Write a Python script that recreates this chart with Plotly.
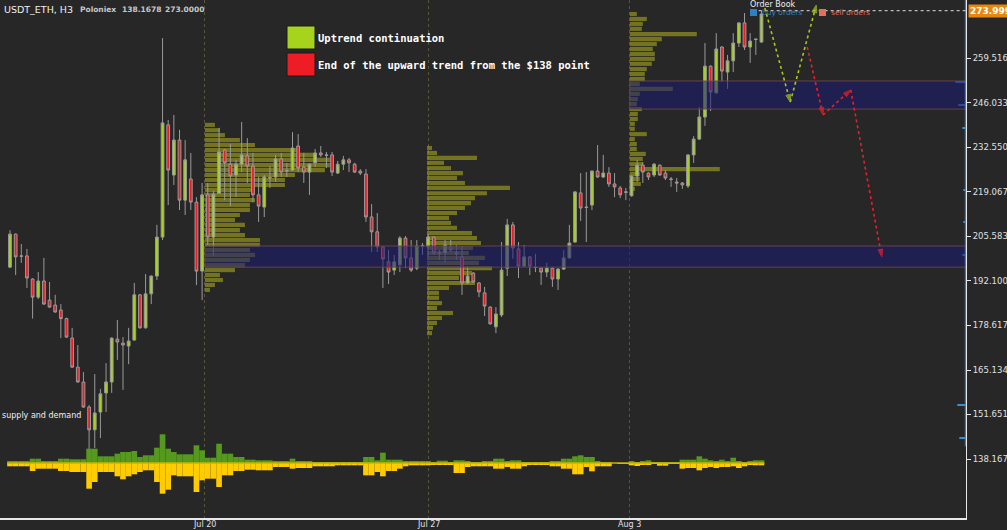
import plotly.graph_objects as go

# ---------------- data ----------------
opens = [196.3, 206.3, 199.7, 199.7, 192.7, 187.2, 192.1, 186.3, 184.8, 183.3,
         180.7, 174.8, 166.0, 161.5, 153.9, 147.0, 152.4, 158.2, 161.5, 174.5,
         173.3, 172.4, 174.2, 187.9, 177.9, 188.2, 193.6, 205.4, 239.4, 224.2,
         234.8, 216.6, 223.0, 216.0, 195.1, 218.2, 205.4, 218.7, 231.8, 227.5,
         224.2, 227.5, 230.0, 226.9, 218.2, 214.5, 223.3, 223.6, 229.1, 225.4,
         225.7, 233.0, 226.6, 225.1, 227.9, 230.9, 230.3, 230.3, 224.8, 227.5,
         228.8, 227.5, 225.4, 224.5, 211.5, 207.0, 202.4, 197.9, 195.4, 197.0,
         205.1, 199.1, 196.0, 202.7, 202.4, 205.4, 200.6, 200.6, 202.4, 200.6,
         199.4, 191.5, 194.5, 191.5, 188.5, 184.2, 178.2, 181.8, 196.0, 209.1,
         201.8, 196.6, 199.4, 196.3, 196.0, 194.8, 196.0, 192.7, 195.7, 199.1,
         203.9, 218.8, 214.5, 215.1, 225.4, 223.6, 224.8, 221.5, 220.3, 219.1,
         217.9, 223.9, 227.2, 224.8, 224.2, 227.2, 224.8, 223.0, 222.1, 221.8,
         220.9, 230.3, 235.1, 241.8, 257.2, 249.1, 263.0, 255.4, 258.8, 264.2,
         270.3, 263.0, 265.4, 264.5]
highs = [207.5, 206.5, 203.3, 201.8, 192.9, 194.8, 199.1, 191.8, 187.9, 185.1,
         181.0, 177.9, 172.7, 164.5, 154.5, 163.9, 159.4, 167.2, 175.0, 180.3,
         175.1, 177.9, 191.5, 188.2, 194.2, 193.8, 209.1, 265.7, 240.9, 242.4,
         237.9, 234.8, 230.9, 217.5, 221.8, 221.8, 219.4, 238.5, 232.0, 233.6,
         228.8, 240.3, 235.4, 230.9, 223.6, 224.2, 226.9, 230.3, 230.9, 227.9,
         237.2, 236.6, 230.9, 227.7, 232.1, 233.0, 231.2, 231.2, 228.5, 230.0,
         229.4, 227.9, 226.0, 226.0, 215.4, 212.7, 202.6, 201.5, 200.0, 205.7,
         205.7, 204.5, 204.5, 203.6, 206.3, 205.6, 201.5, 204.5, 204.5, 203.0,
         202.7, 196.6, 194.8, 191.8, 190.3, 184.4, 184.2, 203.9, 210.9, 210.0,
         203.9, 203.0, 199.6, 200.3, 196.2, 197.6, 196.2, 196.0, 201.5, 209.1,
         219.3, 224.8, 225.1, 225.6, 233.3, 230.3, 226.6, 224.8, 220.9, 220.3,
         224.1, 228.8, 228.1, 225.0, 227.8, 227.4, 225.7, 223.6, 223.3, 222.1,
         230.5, 236.0, 244.8, 264.2, 257.4, 267.2, 263.2, 260.6, 267.2, 270.5,
         273.3, 267.2, 265.6, 274.0]
lows = [196.0, 193.9, 197.6, 190.0, 180.7, 186.6, 184.9, 184.0, 182.5, 174.8,
        174.9, 165.8, 161.3, 153.7, 137.2, 141.5, 144.5, 152.4, 158.2, 168.2,
        159.1, 166.9, 174.0, 177.7, 177.7, 185.1, 192.4, 204.5, 215.1, 221.2,
        213.6, 212.1, 213.6, 190.9, 186.3, 203.0, 199.7, 218.5, 216.6, 214.8,
        217.5, 225.1, 221.8, 216.0, 210.0, 211.5, 220.3, 222.1, 223.6, 223.6,
        225.5, 225.1, 221.8, 218.2, 226.6, 229.7, 226.3, 223.9, 224.5, 225.7,
        225.1, 224.8, 224.2, 210.0, 200.9, 200.9, 190.0, 191.2, 193.9, 194.8,
        196.0, 194.8, 195.4, 200.0, 199.4, 200.0, 198.5, 197.8, 200.9, 198.5,
        187.9, 191.3, 191.6, 187.2, 181.5, 178.9, 176.3, 181.2, 193.6, 198.8,
        193.0, 196.3, 193.9, 194.8, 190.9, 193.3, 190.3, 189.4, 195.5, 198.9,
        203.7, 210.3, 203.9, 213.6, 223.4, 223.3, 220.6, 217.5, 217.2, 216.6,
        217.7, 222.1, 221.8, 222.7, 223.6, 224.0, 222.7, 220.6, 219.1, 220.0,
        220.3, 227.9, 234.8, 239.1, 243.6, 248.9, 252.4, 250.3, 255.4, 263.0,
        262.1, 258.2, 260.6, 264.2]
closes = [206.3, 199.4, 199.6, 193.0, 187.2, 192.1, 185.1, 184.2, 182.7, 180.7,
          175.1, 166.0, 161.5, 153.9, 147.0, 152.1, 157.9, 161.5, 174.8, 173.6,
          172.7, 173.9, 187.9, 177.9, 188.2, 193.6, 205.4, 240.0, 225.7, 234.8,
          216.6, 228.8, 216.0, 195.1, 218.2, 205.4, 218.4, 231.2, 227.9, 223.9,
          227.5, 230.3, 226.9, 218.2, 214.8, 223.6, 223.4, 229.1, 225.1, 225.5,
          232.4, 226.3, 225.1, 227.5, 230.9, 230.3, 230.2, 225.1, 227.5, 228.8,
          227.9, 225.1, 224.8, 211.5, 207.0, 202.4, 198.8, 194.8, 197.9, 205.1,
          199.1, 195.4, 202.7, 202.8, 205.4, 200.6, 200.5, 203.0, 201.5, 200.5,
          191.5, 193.6, 191.8, 188.8, 184.5, 179.1, 182.1, 195.4, 209.1, 202.1,
          196.6, 199.4, 196.6, 196.2, 194.8, 196.0, 192.7, 195.7, 199.1, 203.6,
          219.1, 214.2, 214.4, 225.4, 223.6, 224.8, 221.5, 220.6, 218.2, 219.0,
          223.9, 227.2, 225.1, 223.6, 227.5, 224.2, 223.3, 222.9, 221.8, 221.2,
          230.3, 235.1, 241.8, 257.2, 249.4, 262.4, 255.7, 258.8, 264.2, 270.3,
          263.0, 264.8, 265.3, 273.0]

# supply (green, up) and demand (yellow, down) volumes per candle
buy_vol = [1.7, 1.7, 1.7, 1.7, 4.3, 4.3, 1.7, 1.7, 1.7, 4.3,
           4.3, 3.7, 3.7, 3.7, 14.3, 14.3, 6.7, 6.7, 6.7, 9.3,
           11.0, 11.0, 12.0, 6.0, 7.7, 7.7, 15.3, 28.7, 14.3, 11.0,
           8.7, 8.7, 8.7, 17.7, 12.7, 5.3, 5.3, 19.3, 9.3, 9.3,
           6.0, 6.0, 3.3, 3.3, 2.7, 2.7, 2.7, 2.0, 2.0, 2.0,
           4.3, 1.7, 1.7, 1.7, 1.0, 1.0, 1.0, 1.0, 0.3, 0.3,
           0.3, 0.3, 0.3, 6.0, 6.0, 2.7, 10.3, 3.3, 3.3, 3.3,
           1.7, 1.7, 1.7, 1.7, 2.0, 1.0, 2.3, 2.3, 1.0, 2.7,
           2.7, 1.7, 1.0, 1.0, 2.0, 2.0, 4.3, 4.3, 1.7, 2.7,
           2.7, 1.0, 0.7, 0.7, 0.7, 0.7, 1.7, 1.7, 4.3, 4.3,
           6.7, 7.7, 6.0, 6.0, 1.7, 1.0, 1.0, 0.0, 0.0, 0.0,
           2.0, 1.0, 1.7, 2.7, 0.7, 0.3, 0.3, 0.7, 0.7, 3.3,
           3.3, 3.3, 6.7, 4.3, 2.7, 1.7, 3.3, 1.7, 5.3, 1.7,
           1.0, 1.7, 2.7, 2.7]
sell_vol = [3.3, 3.3, 3.3, 3.3, 8.0, 5.7, 5.7, 5.7, 5.7, 8.0,
            8.0, 9.0, 9.0, 9.0, 25.7, 19.0, 9.0, 9.0, 9.0, 13.3,
            16.3, 13.3, 11.3, 9.0, 7.3, 7.3, 19.0, 30.7, 26.7, 12.3,
            13.3, 13.3, 13.3, 29.0, 17.3, 15.7, 15.7, 24.0, 12.3, 12.3,
            8.0, 8.0, 6.7, 6.7, 7.3, 7.3, 7.3, 4.0, 4.0, 4.0,
            5.7, 5.0, 5.0, 5.0, 3.3, 3.3, 3.3, 3.3, 2.3, 2.3,
            2.3, 2.3, 2.3, 12.3, 12.3, 9.0, 13.3, 8.0, 8.0, 5.7,
            3.3, 2.3, 2.3, 2.3, 2.3, 1.7, 1.7, 1.7, 1.7, 10.0,
            10.0, 4.0, 3.3, 3.3, 3.3, 3.3, 5.7, 5.7, 4.0, 5.7,
            5.7, 3.3, 1.3, 1.3, 1.3, 1.7, 3.3, 3.3, 5.7, 5.7,
            11.3, 11.3, 4.0, 8.3, 3.3, 3.3, 3.3, 0.0, 0.7, 0.7,
            2.3, 3.0, 1.3, 1.3, 0.7, 2.7, 2.7, 0.7, 0.7, 5.7,
            5.0, 5.0, 7.3, 5.0, 4.0, 5.0, 4.0, 4.0, 3.3, 5.0,
            3.3, 1.7, 2.3, 2.3]

date_ticks = [34.5, 74.0, 109.7]
date_labels = ["Jul 20", "Jul 27", "Aug 3"]
price_ticks = [138.1678, 151.6510, 165.1342, 178.6175, 192.1007,
               205.5839, 219.0671, 232.5503, 246.0336, 259.5168]
price_labels = ["138.1678", "151.6510", "165.1342", "178.6175", "192.1007",
                "205.5839", "219.0671", "232.5503", "246.0336", "259.5168"]
last_price = 273.999

# order book (buy orders) levels and sizes
ob_prices = [252.4, 245.4, 238.4, 219.7, 210.0, 200.0, 154.5, 144.5]
ob_sizes = [10, 7, 3, 2, 2, 3, 8, 6]
ob_span = [142.0, 277.2]

# volume profiles: start bar, price levels, lengths
p1_start = 34.5
p1_levels = [239.4, 237.8, 236.3, 234.8, 233.3, 231.8, 230.3, 228.8, 227.2, 225.7,
             224.2, 222.7, 221.2, 219.7, 218.2, 216.6, 215.1, 213.6, 212.1, 210.6,
             209.1, 207.5, 206.0, 204.5, 203.0, 201.5, 200.0, 198.5, 196.9, 195.4,
             193.9, 192.4, 190.9, 189.4]
p1_len = [10, 15, 20, 35, 50, 95, 110, 125, 125, 120,
          90, 80, 80, 50, 45, 50, 45, 45, 35, 30,
          40, 35, 40, 55, 55, 45, 50, 45, 40, 30,
          15, 18, 10, 5]
p2_start = 73.8
p2_levels = [232.4, 230.9, 229.4, 227.9, 226.3, 224.8, 223.3, 221.8, 220.3, 218.7,
             217.2, 215.7, 214.2, 212.7, 211.2, 209.7, 208.2, 206.6, 205.1, 203.6,
             202.1, 200.6, 199.1, 197.6, 196.0, 194.5, 193.0, 191.5, 190.0, 188.5,
             187.0, 185.4, 183.9, 182.4, 180.9, 179.4, 177.9, 176.3]
p2_len = [5, 10, 50, 17, 24, 36, 30, 38, 83, 60,
          48, 44, 38, 30, 22, 24, 30, 45, 50, 54,
          46, 42, 58, 52, 65, 45, 32, 48, 22, 12,
          12, 15, 10, 26, 15, 10, 6, 5]
p3_start = 109.7
p3_levels = [273.0, 271.5, 270.0, 268.5, 266.9, 265.4, 263.9, 262.4, 260.9, 259.4,
             257.9, 256.3, 254.8, 253.3, 251.8, 250.3, 248.8, 247.2, 245.7, 244.2,
             242.7, 241.2, 239.7, 238.2, 236.6, 235.1, 233.6, 232.1, 230.6, 229.1,
             227.5, 226.0, 224.5, 223.0, 221.5, 220.0]
p3_len = [7, 17, 13, 12, 67, 32, 27, 23, 25, 25,
          22, 17, 15, 15, 10, 43, 10, 8, 7, 12,
          8, 8, 5, 5, 17, 5, 7, 7, 16, 13,
          13, 90, 10, 10, 11, 5]

# supply / demand zones (price bottom, top, starting bar)
zone_low = [196.3, 202.7]
zone_high = [244.2, 252.7]
zone_low_start = 34.5
zone_high_start = 109.7

# projected paths (bar, price)
up_path_x = [133.6, 138.1, 142.7]
up_path_y = [274.8, 246.3, 275.7]
down_path_x = [141.1, 143.9, 148.8, 154.3]
down_path_y = [263.0, 242.4, 250.0, 199.4]

# ---------------- layout helpers ----------------
W, H = 1007, 530
ML, MR, MT, MB = 0, 41, 0, 12
PW, PH = W - ML - MR, H - MT - MB
X_RANGE = [-1.77, 169.2]
Y_RANGE = [120.29, 277.24]
BAR_PX = 5.65


def px(x):
    return x / PW


def py(y):
    return 1 - y / PH


BG = "#272727"
n = len(opens)
xs = list(range(n))

fig = go.Figure()

# volume profiles
prof_color = "rgba(170,170,30,0.58)"
for start, lv, ln in [(p1_start, p1_levels, p1_len), (p2_start, p2_levels, p2_len),
                      (p3_start, p3_levels, p3_len)]:
    fig.add_trace(go.Bar(orientation="h", y=lv, x=[v / BAR_PX for v in ln], base=start,
                         width=1.25, marker=dict(color=prof_color, line=dict(width=0)),
                         showlegend=False, hoverinfo="skip"))

# supply & demand histogram
fig.add_trace(go.Bar(x=xs, y=buy_vol, width=1.0, yaxis="y2",
                     marker=dict(color="#559a1e", line=dict(width=0)),
                     showlegend=False, hoverinfo="skip"))
fig.add_trace(go.Bar(x=xs, y=[-v for v in sell_vol], width=1.0, yaxis="y2",
                     marker=dict(color="#ffcc00", line=dict(width=0)),
                     showlegend=False, hoverinfo="skip"))
fig.add_trace(go.Scatter(x=[-0.5, n - 0.5], y=[0, 0], yaxis="y2", mode="lines",
                         line=dict(color="#c8b400", width=1.5),
                         showlegend=False, hoverinfo="skip"))

# candles
fig.add_trace(go.Candlestick(
    x=xs, open=opens, high=highs, low=lows, close=closes,
    increasing=dict(line=dict(color="#9a9a9a", width=1), fillcolor="#a6d41c"),
    decreasing=dict(line=dict(color="#9a9a9a", width=1), fillcolor="#f01c24"),
    whiskerwidth=0, showlegend=False, hoverinfo="skip"))

# zones (drawn over the candles, under the projections)
for x0, lo, hi in [(zone_low_start, zone_low[0], zone_low[1]),
                   (zone_high_start, zone_high[0], zone_high[1])]:
    fig.add_trace(go.Scatter(x=[x0, X_RANGE[1], X_RANGE[1], x0, x0], y=[lo, lo, hi, hi, lo],
                             mode="lines", fill="toself", fillcolor="rgba(25,25,115,0.55)",
                             line=dict(color="rgba(110,70,75,0.9)", width=1),
                             showlegend=False, hoverinfo="skip"))

# order book buy orders along the price scale
ob_x = X_RANGE[1] - 0.12
fig.add_trace(go.Scatter(x=[ob_x, ob_x], y=ob_span, mode="lines",
                         line=dict(color="#3a8fd0", width=1),
                         showlegend=False, hoverinfo="skip"))
fig.add_trace(go.Bar(orientation="h", y=ob_prices, x=[-s / BAR_PX for s in ob_sizes],
                     base=ob_x, width=0.35, marker=dict(color="#3a8fd0", line=dict(width=0)),
                     showlegend=False, hoverinfo="skip"))

# current price dotted line
fig.add_trace(go.Scatter(x=[n - 1.5, X_RANGE[1]], y=[last_price, last_price], mode="lines",
                         line=dict(color="#dddddd", width=1, dash="dot"),
                         showlegend=False, hoverinfo="skip"))

# projected paths
for pxs, pys, col in [(up_path_x, up_path_y, "#a8c81a"), (down_path_x, down_path_y, "#e8202a")]:
    fig.add_trace(go.Scatter(
        x=pxs, y=pys, mode="lines+markers",
        line=dict(color=col, width=1.6, dash="dot"),
        marker=dict(symbol="arrow", angleref="previous", size=[0] + [8] * (len(pxs) - 1),
                    color=col, line=dict(color=col, width=1)),
        showlegend=False, hoverinfo="skip"))

shapes = []
# legend boxes
shapes.append(dict(type="rect", xref="paper", yref="paper", x0=px(287), x1=px(315),
                   y0=py(49), y1=py(26), fillcolor="#a6d41c",
                   line=dict(color="#1a1a1a", width=1)))
shapes.append(dict(type="rect", xref="paper", yref="paper", x0=px(287), x1=px(315),
                   y0=py(76), y1=py(53), fillcolor="#ee1c25",
                   line=dict(color="#1a1a1a", width=1)))
# order book legend squares
shapes.append(dict(type="rect", xref="paper", yref="paper", x0=px(750), x1=px(757),
                   y0=py(16), y1=py(9), fillcolor="#2f80c0", line=dict(width=0)))
shapes.append(dict(type="rect", xref="paper", yref="paper", x0=px(819), x1=px(826),
                   y0=py(16), y1=py(9), fillcolor="#e07060", line=dict(width=0)))

ann = []


def text(x, y, s, size, color, family="DejaVu Sans", anchor="left"):
    ann.append(dict(xref="paper", yref="paper", x=px(x), y=py(y), text=s, showarrow=False,
                    xanchor=anchor, yanchor="middle", font=dict(size=size, color=color,
                                                                family=family)))


text(2, 10, "USDT_ETH, H3", 9.5, "#f0f0f0")
text(78, 10, "<b>Poloniex</b>", 7.5, "#c8c8c8")
text(120, 10, "<b>138.1678</b>", 7.5, "#c8c8c8")
text(163, 10, "<b>273.0000</b>", 7.5, "#c8c8c8")
text(316, 38, "<b>Uptrend continuation</b>", 10.5, "#ffffff", "DejaVu Sans Mono")
text(316, 65, "<b>End of the upward trend from the $138 point</b>", 10.5, "#ffffff",
     "DejaVu Sans Mono")
text(0, 415, "supply and demand", 8, "#f0f0f0")
text(748, 5, "Order Book", 8, "#f0f0f0")
text(760, 13, "buy orders", 7.5, "#2f80c0")
text(829, 13, "sell orders", 7.5, "#e07060")
ann.append(dict(xref="paper", yref="y", x=px(968), y=last_price, text="<b>273.999</b>",
                showarrow=False, xanchor="left", yanchor="middle", bgcolor="#e8870e",
                borderpad=1, font=dict(size=9, color="#ffffff", family="DejaVu Sans")))
for tv, tl in zip(date_ticks, date_labels):
    ann.append(dict(xref="x", yref="paper", x=tv, y=py(524), text=tl, showarrow=False,
                    xanchor="center", yanchor="middle",
                    font=dict(size=8, color="#e0e0e0", family="DejaVu Sans")))

fig.update_layout(
    width=W, height=H, margin=dict(l=ML, r=MR, t=MT, b=MB, autoexpand=False),
    paper_bgcolor=BG, plot_bgcolor=BG, barmode="overlay",
    shapes=shapes, annotations=ann, showlegend=False,
    xaxis=dict(range=X_RANGE, rangeslider=dict(visible=False), tickvals=date_ticks,
               showticklabels=False, showgrid=True, gridcolor="#56563c", griddash="dot",
               gridwidth=1, zeroline=False, showline=True, linecolor="#e8e8e8", linewidth=2,
               ticks="", automargin=False, fixedrange=True),
    yaxis=dict(range=Y_RANGE, side="right", tickvals=price_ticks, ticktext=price_labels,
               showgrid=False, zeroline=False, showline=True, linecolor="#e8e8e8",
               linewidth=1, ticks="outside", ticklen=4, tickcolor="#e8e8e8",
               tickfont=dict(size=8.5, color="#e0e0e0", family="DejaVu Sans"),
               automargin=False, fixedrange=True),
    yaxis2=dict(range=[-55, 463], overlaying="y", visible=False, fixedrange=True),
)

fig.write_html("out.html", config={"displayModeBar": False},
               post_script="document.body.style.margin='0px';"
                           "document.body.style.overflow='hidden';"
                           "document.body.style.background='#272727';")
